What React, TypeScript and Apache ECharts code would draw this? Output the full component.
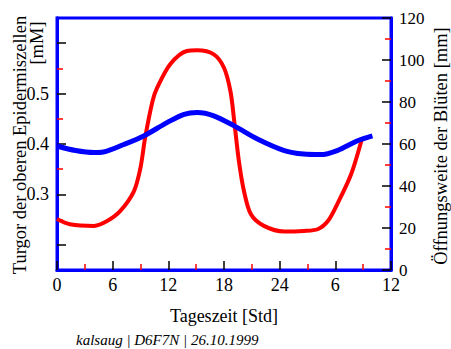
import React, { useEffect, useRef } from "react";
import * as echarts from "echarts";

const redHours = [0, 1.4, 4, 5.4, 6.8, 8.3, 9, 9.5, 10.3, 10.8, 12.2, 14, 15.1, 16.9, 18, 18.7, 19.1, 19.6, 20.15, 20.9, 22.3, 24.5, 26.6, 28.1, 29.2, 30.2, 31.7, 32.9];
const redValues = [24.3, 21.8, 21, 23.3, 28, 37.6, 48.7, 63, 80.5, 86.8, 98, 104.3, 104.6, 102.7, 96.3, 85, 71, 52, 37.6, 26.5, 21, 18.3, 18.6, 19.4, 23.3, 31.3, 45.6, 63];

const blueHours = [0, 2, 4, 5, 7.2, 9.35, 11.9, 13.7, 15.1, 16.9, 19.1, 21.6, 24.5, 26.6, 28.4, 30.2, 32.4, 34];
const blueValues = [0.396, 0.387, 0.383, 0.384, 0.399, 0.416, 0.443, 0.459, 0.4625, 0.456, 0.436, 0.41, 0.387, 0.38, 0.379, 0.387, 0.4065, 0.416];

const leftMajorTicks = [0.2, 0.3, 0.4, 0.5, 0.6];
const leftMinorTicks = [0.25, 0.35, 0.45, 0.55];
const leftLabels = [0.3, 0.4, 0.5];

const FONT = "Liberation Serif";

export default function App() {
  const ref = useRef<HTMLDivElement>(null);
  useEffect(() => {
    const chart = echarts.init(ref.current!, null, { renderer: "svg" });
    const red = redHours.map((h, i) => [h, redValues[i]]);
    const blue = blueHours.map((h, i) => [h, blueValues[i]]);
    const major = () => ({ color: "#000000", width: 1.5 });
    const minor = () => ({ color: "#ff0000", width: 1.5 });
    const line = () => ({ show: true, onZero: false, lineStyle: { color: "#0000ff", width: 3 } });
    chart.setOption({
      animation: false,
      textStyle: { fontFamily: FONT },
      grid: { left: 57, right: 60, top: 18, bottom: 79, show: true, borderColor: "#0000ff", borderWidth: 3, backgroundColor: "transparent", z: 0 },
      xAxis: [
        {
          type: "value", min: 0, max: 36, interval: 6, z: 5,
          axisLine: line(),
          splitLine: { show: false },
          axisTick: { show: true, inside: true, length: 9, lineStyle: major() },
          minorTick: { show: true, splitNumber: 2, length: 6, lineStyle: minor() },
          axisLabel: { show: true, margin: 6, fontFamily: FONT, fontSize: 18, color: "#000000", formatter: (v: number) => String(v > 24 ? v - 24 : v) },
          name: "Tageszeit [Std]", nameLocation: "middle", nameGap: 37,
          nameTextStyle: { fontFamily: FONT, fontSize: 18, color: "#000000" },
        },
      ],
      yAxis: [
        {
          type: "value", min: 0.15, max: 0.65, position: "left", z: 5,
          axisLine: line(),
          splitLine: { show: false },
          axisTick: { show: true, inside: true, length: 9, customValues: leftMajorTicks, lineStyle: major() },
          axisLabel: { show: true, margin: 8, customValues: leftLabels, fontFamily: FONT, fontSize: 18, color: "#000000", formatter: (v: number) => v.toFixed(1) },
        },
        {
          type: "value", min: 0, max: 120, interval: 20, position: "right", z: 5,
          axisLine: line(),
          splitLine: { show: false },
          axisTick: { show: true, inside: true, length: 9, lineStyle: major() },
          minorTick: { show: true, splitNumber: 2, length: 6, lineStyle: minor() },
          axisLabel: { show: true, margin: 8, fontFamily: FONT, fontSize: 17, color: "#000000" },
        },
        {
          type: "value", min: 0.15, max: 0.65, position: "left", offset: 0, z: 5,
          axisLine: line(),
          splitLine: { show: false },
          axisTick: { show: true, inside: true, length: 6, customValues: leftMinorTicks, lineStyle: minor() },
          axisLabel: { show: false },
        },
      ],
      series: [
        { type: "line", data: red, yAxisIndex: 1, smooth: 0.3, showSymbol: false, lineStyle: { color: "#ff0000", width: 4 }, z: 6 },
        { type: "line", data: blue, yAxisIndex: 0, smooth: 0.3, showSymbol: false, lineStyle: { color: "#0000ff", width: 5 }, z: 7 },
      ],
      graphic: [
        { type: "text", x: 20, y: 145, rotation: Math.PI / 2, style: { text: "Turgor der oberen Epidermiszellen", fontFamily: FONT, fontSize: 18.5, fill: "#000000", textAlign: "center", textVerticalAlign: "middle" } },
        { type: "text", x: 37, y: 43, rotation: Math.PI / 2, style: { text: "[mM]", fontFamily: FONT, fontSize: 18.5, fill: "#000000", textAlign: "center", textVerticalAlign: "middle" } },
        { type: "text", x: 441, y: 146, rotation: Math.PI / 2, style: { text: "Öffnungsweite der Blüten [mm]", fontFamily: FONT, fontSize: 18.5, fill: "#000000", textAlign: "center", textVerticalAlign: "middle" } },
        { type: "text", x: 76, y: 340, style: { text: "kalsaug | D6F7N | 26.10.1999", fontFamily: FONT, fontStyle: "italic", fontSize: 15, fill: "#000000", textAlign: "left", textVerticalAlign: "middle" } },
      ],
    });
    return () => chart.dispose();
  }, []);
  return <div ref={ref} style={{ width: 451, height: 349, position: "absolute", left: 0, top: 0 }} />;
}
